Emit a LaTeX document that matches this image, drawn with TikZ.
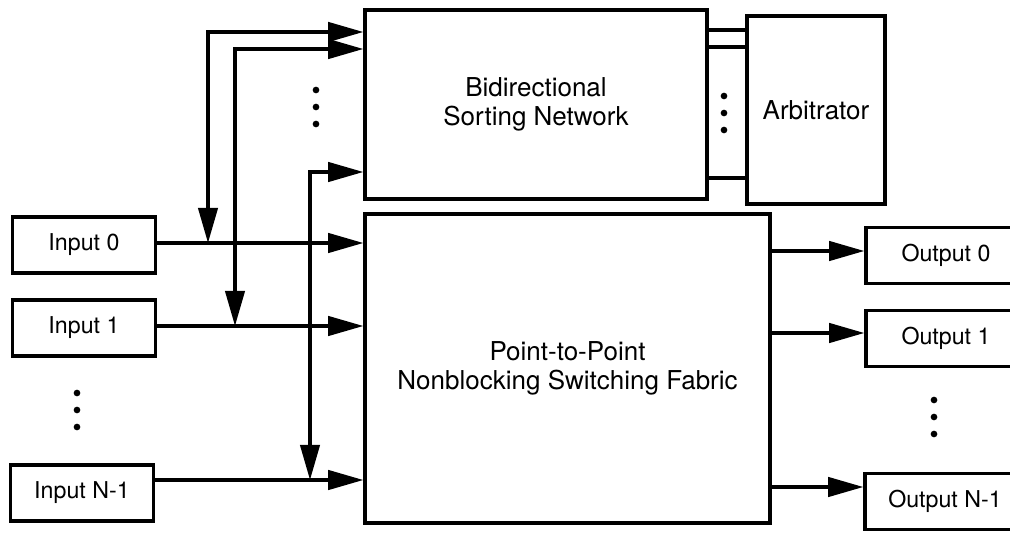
\documentclass[tikz,border=0pt]{standalone}
\usepackage{fontspec}
\setmainfont{TeX Gyre Heros}
\usetikzlibrary{arrows.meta, calc}

\tikzset{
    block/.style={draw, line width=1.9pt, align=center, inner sep=0pt,
        font=\fontsize{14.8}{16.5}\selectfont},
    port/.style={draw, line width=1.9pt, inner sep=0pt,
        minimum width=2.86cm, minimum height=1.12cm,
        font=\fontsize{13.2}{15}\selectfont},
    wire/.style={line width=1.9pt},
    feed/.style={wire, -{Triangle[length=20pt, width=11pt]}},
    dualfeed/.style={wire, {Triangle[length=20pt, width=11pt]}-{Triangle[length=20pt, width=11pt]}}
}

\begin{document}
\begin{tikzpicture}[x=0.02cm, y=-0.02cm]

    \useasboundingbox (0,0) rectangle (1010,533);

    % 1. Define the row levels and the feedback buses
    \coordinate (row0) at (0,243);
    \coordinate (row1) at (0,326);
    \coordinate (rowN) at (0,480);
    \coordinate (orow0) at (0,251);
    \coordinate (orow1) at (0,333);
    \coordinate (orowN) at (0,487);
    \coordinate (busA) at (208,32);
    \coordinate (busB) at (235,49);
    \coordinate (busC) at (310,172);

    % 2. Draw the main blocks
    \node[block, minimum width=6.84cm, minimum height=3.78cm] (sort) at (536,104.5)
        {Bidirectional\\Sorting Network};
    \node[block, minimum width=2.76cm, minimum height=3.76cm] (arb) at (816,110)
        {Arbitrator};
    \node[block, minimum width=8.1cm, minimum height=6.18cm] (fabric) at (567.5,368.5)
        {Point-to-Point\\Nonblocking Switching Fabric};

    % 3. Inputs and outputs (outputs run past the right edge)
    \node[port] (in0) at (84,245) {Input 0};
    \node[port] (in1) at (84,328) {Input 1};
    \node[port] (inN) at (82,493) {Input N-1};
    \node[port, minimum width=3.2cm] (out0) at (946,255.5) {Output 0};
    \node[port, minimum width=3.2cm] (out1) at (946,338.5) {Output 1};
    \node[port, minimum width=3.2cm] (outN) at (945,501.5) {Output N-1};

    % 4. Links between sorting network and arbitrator
    \foreach \ly in {30,47,178}
        \draw[wire] (sort.east |- 0,\ly) -- (arb.west |- 0,\ly);

    % 5. Inputs into the fabric, fabric to outputs
    \draw[feed] (in0.east |- row0) -- (fabric.west |- row0);
    \draw[feed] (in1.east |- row1) -- (fabric.west |- row1);
    \draw[feed] (inN.east |- rowN) -- (fabric.west |- rowN);
    \draw[feed] (fabric.east |- orow0) -- (out0.west |- orow0);
    \draw[feed] (fabric.east |- orow1) -- (out1.west |- orow1);
    \draw[feed] (fabric.east |- orowN) -- (outN.west |- orowN);

    % 6. Feedback buses between the inputs and the sorting network
    \draw[dualfeed] (busA |- row0) |- (sort.west |- busA);
    \draw[dualfeed] (busB |- row1) |- (sort.west |- busB);
    \draw[dualfeed] (busC |- rowN) |- (sort.west |- busC);

    % 7. Ellipsis dots
    \foreach \dy in {0,17,34} {
        \fill (316,90+\dy) circle (1.9pt);
        \fill (724,96+\dy) circle (1.9pt);
        \fill (77,393+\dy) circle (1.9pt);
        \fill (934,400+\dy) circle (1.9pt);
    }

\end{tikzpicture}
\end{document}
